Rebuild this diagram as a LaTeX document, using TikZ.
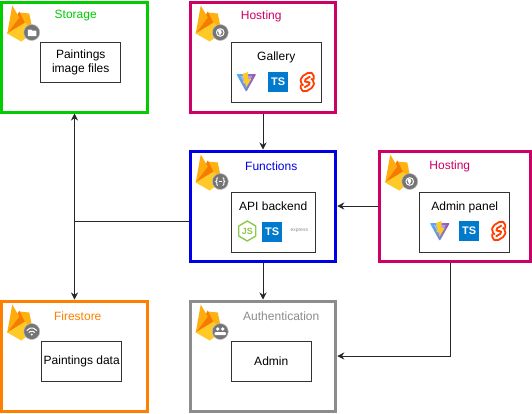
\documentclass[tikz,border=0pt]{standalone}
\usepackage{fontspec}
\setmainfont{Liberation Sans}
\usepackage{xcolor}
\usetikzlibrary{arrows.meta, positioning, calc}

\definecolor{storagegreen}{HTML}{00CC00}
\definecolor{hostingpink}{HTML}{CC0066}
\definecolor{functionsblue}{HTML}{0000E6}
\definecolor{firestoreorange}{HTML}{FF8000}
\definecolor{authgrey}{HTML}{8C8C8C}
\definecolor{badgegrey}{HTML}{757575}
\definecolor{flameyellow}{HTML}{FFCA28}
\definecolor{flameamber}{HTML}{FFA000}
\definecolor{flameorange}{HTML}{F57C00}
\definecolor{tsblue}{HTML}{007ACC}
\definecolor{svelteorange}{HTML}{FF3E00}
\definecolor{nodegreen}{HTML}{8CC84B}

\tikzset{
    service/.style={rectangle, draw=#1, fill=white, line width=3pt, minimum width=145.5pt, minimum height=110pt},
    inner/.style={rectangle, draw=black!80, fill=white, line width=1pt, anchor=north west, align=center, inner sep=1pt, font=\fontsize{12}{14}\selectfont},
    heading/.style={text=#1, font=\fontsize{12}{14}\selectfont},
    tsbox/.style={rectangle, fill=tsblue, text=white, minimum size=20pt, inner sep=0pt, font=\fontsize{11}{11}\selectfont\bfseries},
    arrow/.style={-{Stealth[length=7pt,width=7pt]}, line width=0.8pt, draw=black!85},
    glyph/.style={draw=white, line width=1pt},
    pics/flame/.style={code={
        \fill[flameamber!60!flameyellow] (7,33) -- (19,12) -- (29,13) -- (33,32) -- cycle;
        \fill[flameorange] (7,33) -- (19,11) -- (25,23) -- cycle;
        \fill[flameamber!70!flameyellow] (7,33) -- (12,5) -- (19,17) -- cycle;
        \fill[flameyellow] (7,33) -- (25,22) -- (33,32) -- (21,41) -- cycle;
        \fill[badgegrey, draw=black!25, line width=0.5pt] (31.5,32) circle (8);
    }},
    pics/folderglyph/.style={code={
        \fill[white] (27.5,29) -- (31,29) -- (32,30) -- (36,30) -- (36,35.5) -- (27.5,35.5) -- cycle;
    }},
    pics/globeglyph/.style={code={
        \draw[glyph] (31.5,32) circle (3.8);
        \fill[white] (29,30) -- (32,29) -- (33,32) -- (31,35) -- cycle;
    }},
    pics/bracesglyph/.style={code={
        \draw[glyph] (29,28) -- (28,29) -- (28,31) -- (27,32) -- (28,33) -- (28,35) -- (29,36);
        \draw[glyph] (34,28) -- (35,29) -- (35,31) -- (36,32) -- (35,33) -- (35,35) -- (34,36);
        \draw[glyph] (30,32) -- (33,32);
    }},
    pics/wifiglyph/.style={code={
        \draw[glyph, rounded corners=2pt] (26.5,31) -- (31.5,27.5) -- (36.5,31);
        \draw[glyph, rounded corners=1.5pt] (28.5,33) -- (31.5,31) -- (34.5,33);
        \fill[white] (31.5,35) circle (1.2);
    }},
    pics/usersglyph/.style={code={
        \fill[white] (29,29.5) circle (1.8);
        \fill[white] (34,29.5) circle (1.8);
        \fill[white, rounded corners=1pt] (25.5,35.5) -- (26,32.5) -- (37,32.5) -- (37.5,35.5) -- cycle;
    }},
    pics/vitelogo/.style={code={
        \shade[left color=cyan!60!blue!70, right color=violet!70, rounded corners=1pt] (-10,-8) -- (10,-8) -- (0,10) -- cycle;
        \fill[white, opacity=0.35] (-6,-6) -- (6,-6) -- (0,5) -- cycle;
        \fill[flameyellow] (2,-10) -- (-4,-8) -- (-2,-2) -- (-3.5,1) -- (0,1) -- (-0.5,6) -- (5,-3) -- (1.5,-3) -- cycle;
    }},
    pics/sveltelogo/.style={code={
        \draw[svelteorange, line width=1.8pt, rounded corners=2pt] (6.5,-2.5) -- (6.5,-8) -- (2,-10) -- (-6,-5) -- (-7,0.5) -- (-4,3.5);
        \draw[svelteorange, line width=1.8pt, rounded corners=2pt] (-6.5,2.5) -- (-6.5,8) -- (-2,10) -- (6,5) -- (7,-0.5) -- (4,-3.5);
        \draw[svelteorange, line width=1.8pt, rounded corners=1.5pt] (3,-5.5) -- (-3,-2) -- (-1.5,0.8) -- (1.5,-0.8) -- (3,2) -- (-3,5.5);
    }},
    pics/nodelogo/.style={code={
        \draw[nodegreen, line width=1.4pt, line join=round] (0,-10) -- (8.5,-5) -- (8.5,5) -- (0,10) -- (-8.5,5) -- (-8.5,-5) -- cycle;
        \node[text=nodegreen, font=\fontsize{9}{9}\selectfont\bfseries, inner sep=0pt] at (0,0) {JS};
    }}
}

\begin{document}
\begin{tikzpicture}[x=1pt, y=-1pt, node distance=37pt and 40pt]
\useasboundingbox (0,0) rectangle (532,413);

% Services
\node[service=storagegreen] (storage) at (74.5,57) {};
\node[service=hostingpink, right=40pt of storage] (hostgallery) {};
\node[service=functionsblue, below=36pt of hostgallery] (functions) {};
\node[service=hostingpink, right=41pt of functions, minimum width=150.5pt] (hostadmin) {};
\node[service=authgrey, below=37pt of functions] (authentication) {};
\node[service=firestoreorange, left=40pt of authentication] (firestore) {};

% Headings
\node[heading=storagegreen] (storagetitle) at ($(storage.north west)+(75.5,15.5)$) {Storage};
\node[heading=hostingpink] (gallerytitle) at ($(hostgallery.north west)+(72.5,15.5)$) {Hosting};
\node[heading=functionsblue] (functionstitle) at ($(functions.north west)+(82.5,16.5)$) {Functions};
\node[heading=hostingpink] (admintitle) at ($(hostadmin.north west)+(71.5,16.5)$) {Hosting};
\node[heading=firestoreorange] (firestoretitle) at ($(firestore.north west)+(77.5,16.5)$) {Firestore};
\node[heading=authgrey] (authtitle) at ($(authentication.north west)+(92.5,16.5)$) {Authentication};

% Firebase flames
\pic at (storage.north west) {flame};
\pic at (storage.north west) {folderglyph};
\pic at (hostgallery.north west) {flame};
\pic at (hostgallery.north west) {globeglyph};
\pic at (functions.north west) {flame};
\pic at (functions.north west) {bracesglyph};
\pic at (hostadmin.north west) {flame};
\pic at (hostadmin.north west) {globeglyph};
\pic at (firestore.north west) {flame};
\pic at (firestore.north west) {wifiglyph};
\pic at (authentication.north west) {flame};
\pic at (authentication.north west) {usersglyph};

% Inner boxes
\node[inner, minimum width=80pt, minimum height=40pt] (paintingfiles) at ($(storage.north west)+(40,41)$) {Paintings\\image files};
\node[inner, minimum width=90pt, minimum height=60pt] (gallery) at ($(hostgallery.north west)+(42,41)$) {Gallery\\[18pt]\mbox{}};
\node[inner, minimum width=84pt, minimum height=60pt] (backend) at ($(functions.north west)+(42,42)$) {API backend\\[18pt]\mbox{}};
\node[inner, minimum width=90pt, minimum height=60pt] (adminpanel) at ($(hostadmin.north west)+(41,42)$) {Admin panel\\[18pt]\mbox{}};
\node[inner, minimum width=80pt, minimum height=40pt] (paintingdata) at ($(firestore.north west)+(41,41)$) {Paintings data};
\node[inner, minimum width=80pt, minimum height=40pt] (admin) at ($(authentication.north west)+(42,41)$) {Admin};

% Logos
\pic at ($(gallery.north west)+(15.5,40.5)$) {vitelogo};
\node[tsbox] (gallerytype) at ($(gallery.north west)+(47.5,40.5)$) {TS};
\pic at ($(gallery.north west)+(76.5,40.5)$) {sveltelogo};
\pic at ($(backend.north west)+(16.5,39.5)$) {nodelogo};
\node[tsbox] (backendtype) at ($(backend.north west)+(41.5,40.5)$) {TS};
\node[text=black!45, font=\fontsize{5}{5}\selectfont, inner sep=0pt] (expresslogo) at ($(backend.north west)+(68.5,39.5)$) {express};
\pic at ($(adminpanel.north west)+(20.5,39.5)$) {vitelogo};
\node[tsbox] (admintype) at ($(adminpanel.north west)+(50,39.5)$) {TS};
\pic at ($(adminpanel.north west)+(79.5,39.5)$) {sveltelogo};

% Connectors
\coordinate (branch) at ($(storage.south)!0.5!(firestore.north)$);
\coordinate (branch) at (branch |- 0,221);
\draw[arrow] (hostgallery) -- (functions);
\draw[arrow] (functions) -- (authentication);
\draw[arrow] (hostadmin.west) -- (functions.east);
\draw[arrow, {Stealth[length=7pt,width=7pt]}-{Stealth[length=7pt,width=7pt]}] (storage) -- (firestore);
\draw[line width=0.8pt, draw=black!85] (functions.west |- branch) -- (branch);
\draw[arrow] ($(hostadmin.south)+(-5,0)$) |- (authentication.east);

\end{tikzpicture}
\end{document}
